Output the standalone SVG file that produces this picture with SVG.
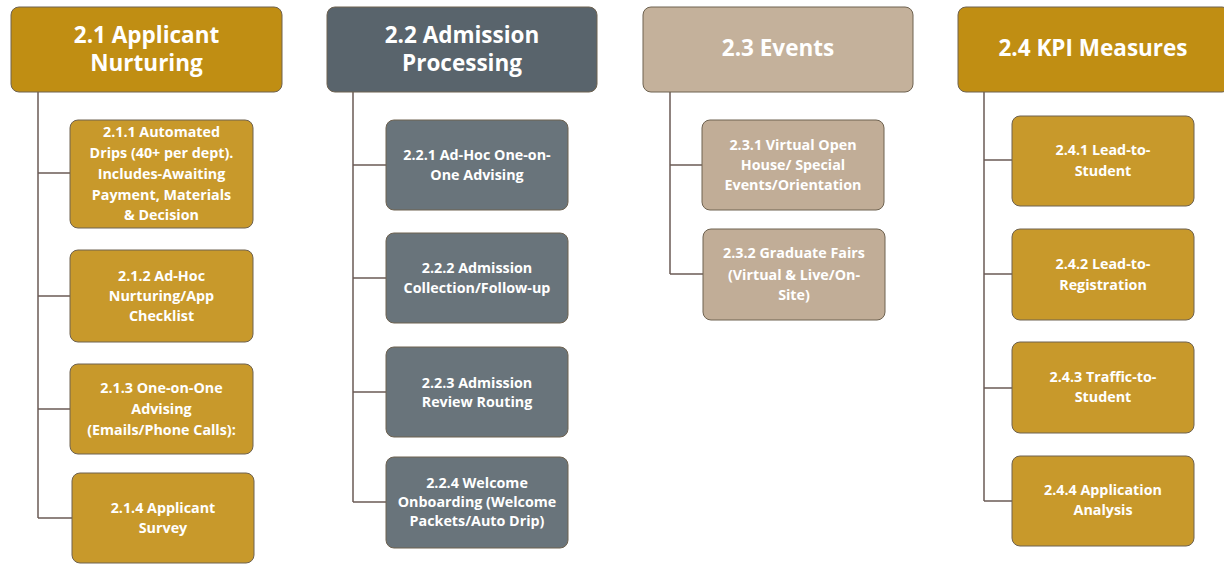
<svg xmlns="http://www.w3.org/2000/svg" width="1224" height="564" viewBox="0 0 1224 564">
<style>
.n rect{stroke:#6e6250;stroke-width:1}
.h{font-family:"Open Sans","Liberation Sans",Arial,sans-serif;font-weight:700;font-size:22.5px;fill:#fff;text-anchor:middle}
.c{font-family:"Open Sans","Liberation Sans",Arial,sans-serif;font-weight:700;font-size:14.3px;fill:#fff;text-anchor:middle}
.gh{fill:#C08E13}
.gc{fill:#C8992B}
.sh{fill:#59646C}
.sc{fill:#69747B}
.th{fill:#C4B19B}
.tc{fill:#C1AD97}
#connectors path{fill:none;stroke:#6b5b55;stroke-width:1.5}
</style>
<g id="connectors">
<path d="M38 92V518M38 173H70M38 296H70M38 409H70M38 518H72"/>
<path d="M353 92V502M353 165H386M353 278H386M353 392H386M353 502H386"/>
<path d="M670 92V274M670 165H702M670 274H703"/>
<path d="M984 92V501M984 160H1012M984 274H1012M984 388H1012M984 501H1012"/>
</g>
<g id="n21" class="n"><rect class="gh" x="11" y="7" width="271" height="85" rx="8"/><text class="h" x="146.5" y="43">2.1 Applicant</text><text class="h" x="146.5" y="71">Nurturing</text></g>
<g id="n211" class="n"><rect class="gc" x="70" y="120" width="183" height="108" rx="8"/><text class="c" x="161.5" y="137">2.1.1 Automated</text><text class="c" x="161.5" y="158">Drips (40+ per dept).</text><text class="c" x="161.5" y="179">Includes-Awaiting</text><text class="c" x="161.5" y="200">Payment, Materials</text><text class="c" x="161.5" y="220">&amp; Decision</text></g>
<g id="n212" class="n"><rect class="gc" x="70" y="250" width="183" height="92" rx="8"/><text class="c" x="161.5" y="281">2.1.2 Ad-Hoc</text><text class="c" x="161.5" y="301">Nurturing/App</text><text class="c" x="161.5" y="321">Checklist</text></g>
<g id="n213" class="n"><rect class="gc" x="70" y="364" width="183" height="90" rx="8"/><text class="c" x="161.5" y="393">2.1.3 One-on-One</text><text class="c" x="161.5" y="414">Advising</text><text class="c" x="161.5" y="435">(Emails/Phone Calls):</text></g>
<g id="n214" class="n"><rect class="gc" x="72" y="473" width="182" height="90" rx="8"/><text class="c" x="163" y="513">2.1.4 Applicant</text><text class="c" x="163" y="533">Survey</text></g>
<g id="n22" class="n"><rect class="sh" x="327" y="7" width="270" height="85" rx="8"/><text class="h" x="462" y="43">2.2 Admission</text><text class="h" x="462" y="71">Processing</text></g>
<g id="n221" class="n"><rect class="sc" x="386" y="120" width="182" height="90" rx="8"/><text class="c" x="477" y="160">2.2.1 Ad-Hoc One-on-</text><text class="c" x="477" y="180">One Advising</text></g>
<g id="n222" class="n"><rect class="sc" x="386" y="233" width="182" height="90" rx="8"/><text class="c" x="477" y="273">2.2.2 Admission</text><text class="c" x="477" y="293">Collection/Follow-up</text></g>
<g id="n223" class="n"><rect class="sc" x="386" y="347" width="182" height="90" rx="8"/><text class="c" x="477" y="388">2.2.3 Admission</text><text class="c" x="477" y="407">Review Routing</text></g>
<g id="n224" class="n"><rect class="sc" x="386" y="457" width="182" height="91" rx="8"/><text class="c" x="477" y="488">2.2.4 Welcome</text><text class="c" x="477" y="507">Onboarding (Welcome</text><text class="c" x="477" y="526">Packets/Auto Drip)</text></g>
<g id="n23" class="n"><rect class="th" x="643" y="7" width="270" height="85" rx="8"/><text class="h" x="778" y="56">2.3 Events</text></g>
<g id="n231" class="n"><rect class="tc" x="702" y="120" width="182" height="90" rx="8"/><text class="c" x="793" y="150">2.3.1 Virtual Open</text><text class="c" x="793" y="170">House/ Special</text><text class="c" x="793" y="190">Events/Orientation</text></g>
<g id="n232" class="n"><rect class="tc" x="703" y="229" width="182" height="91" rx="8"/><text class="c" x="794" y="258">2.3.2 Graduate Fairs</text><text class="c" x="794" y="280">(Virtual &amp; Live/On-</text><text class="c" x="794" y="300">Site)</text></g>
<g id="n24" class="n"><rect class="gh" x="958" y="7" width="272" height="85" rx="8"/><text class="h" x="1093" y="56">2.4 KPI Measures</text></g>
<g id="n241" class="n"><rect class="gc" x="1012" y="116" width="182" height="90" rx="8"/><text class="c" x="1103" y="155">2.4.1 Lead-to-</text><text class="c" x="1103" y="176">Student</text></g>
<g id="n242" class="n"><rect class="gc" x="1012" y="229" width="182" height="91" rx="8"/><text class="c" x="1103" y="269">2.4.2 Lead-to-</text><text class="c" x="1103" y="290">Registration</text></g>
<g id="n243" class="n"><rect class="gc" x="1012" y="342" width="182" height="91" rx="8"/><text class="c" x="1103" y="382">2.4.3 Traffic-to-</text><text class="c" x="1103" y="402">Student</text></g>
<g id="n244" class="n"><rect class="gc" x="1012" y="456" width="182" height="90" rx="8"/><text class="c" x="1103" y="495">2.4.4 Application</text><text class="c" x="1103" y="515">Analysis</text></g>
</svg>
